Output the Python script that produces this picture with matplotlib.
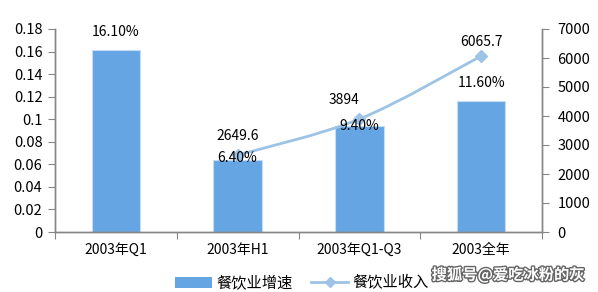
import matplotlib
matplotlib.use("Agg")
import matplotlib.pyplot as plt
import matplotlib.patheffects as pe
from matplotlib.path import Path
from matplotlib.patches import PathPatch
from matplotlib.lines import Line2D
from matplotlib.patches import Patch
import numpy as np

plt.rcParams['font.family'] = ['Noto Sans CJK SC', 'DejaVu Sans']

categories = ["2003年Q1", "2003年H1", "2003年Q1-Q3", "2003全年"]
growth = [0.161, 0.064, 0.094, 0.116]
growth_labels = ["16.10%", "6.40%", "9.40%", "11.60%"]
income_idx = [1, 2, 3]
income = [2649.6, 3894, 6065.7]
income_labels = ["2649.6", "3894", "6065.7"]
left_ticks = [0, 0.02, 0.04, 0.06, 0.08, 0.1, 0.12, 0.14, 0.16, 0.18]
right_ticks = [0, 1000, 2000, 3000, 4000, 5000, 6000, 7000]

bar_color = "#65A5E3"
line_color = "#9DC3E6"
axis_color = "#868686"

fig = plt.figure(figsize=(5.98, 2.92), dpi=100)
ax = fig.add_axes([55/598, 1 - 232/292, (542-55)/598, (232-29)/292])
ax2 = ax.twinx()

x = np.arange(len(categories))
ax.bar(x, growth, width=0.4, color=bar_color, edgecolor="#C5DDF4", linewidth=0.8, zorder=2)
ax.set_xlim(-0.5, len(categories) - 0.5)
ax.set_ylim(0, 0.18)
ax.set_yticks(left_ticks)
ax.set_yticklabels([("%g" % v) for v in left_ticks], fontsize=10.5)
ax.set_xticks(np.arange(-0.5, len(categories)), minor=False)
ax.set_xticklabels([""] * (len(categories) + 1))
ax.set_xticks(x, minor=True)
ax.set_xticklabels(categories, minor=True, fontsize=10)
ax.tick_params(axis='x', which='minor', length=0, pad=8)
ax.tick_params(axis='x', which='major', length=5, color=axis_color, direction='out')
ax.tick_params(axis='y', length=5, color=axis_color, direction='out', pad=4)

ax2.set_ylim(0, 7000)
ax2.set_yticks(right_ticks)
ax2.set_yticklabels([str(v) for v in right_ticks], fontsize=10.5)
ax2.tick_params(axis='y', length=5, color=axis_color, direction='out', pad=6)

# smooth line (Catmull-Rom -> Bezier) through the data points
px = np.array(income_idx, dtype=float)
py = np.array(income, dtype=float)
verts = [(px[0], py[0])]
codes = [Path.MOVETO]
n = len(px)
for i in range(n - 1):
    p0 = (px[i-1], py[i-1]) if i > 0 else (px[i], py[i])
    p1 = (px[i], py[i])
    p2 = (px[i+1], py[i+1])
    p3 = (px[i+2], py[i+2]) if i + 2 < n else (px[i+1], py[i+1])
    c1 = (p1[0] + (p2[0]-p0[0])/6, p1[1] + (p2[1]-p0[1])/6)
    c2 = (p2[0] - (p3[0]-p1[0])/6, p2[1] - (p3[1]-p1[1])/6)
    verts += [c1, c2, p2]
    codes += [Path.CURVE4] * 3
ax2.add_patch(PathPatch(Path(verts, codes), facecolor='none', edgecolor=line_color, lw=2, zorder=3))
ax2.plot(px, py, linestyle='none', marker='D', markersize=6, color=line_color, zorder=4)

# bar labels (offset in points relative to bar top), drawn above the line
bar_offsets = [8, 1, 0, 8]
for xi, v, lab, off in zip(x, growth, growth_labels, bar_offsets):
    ax2.annotate(lab, (xi, v), xycoords=ax.transData, xytext=(0, off), textcoords="offset points",
                 ha="center", va="bottom" if off > 4 else "center", fontsize=10, zorder=6)

line_offsets = [(0, 14), (-11, 14), (0, 10)]
for xi, v, lab, off in zip(income_idx, income, income_labels, line_offsets):
    ax2.annotate(lab, (xi, v), xytext=off, textcoords="offset points",
                 ha="center", va="center", fontsize=10, zorder=6)

for a in (ax, ax2):
    a.spines['top'].set_visible(False)
    for s in ('left', 'right', 'bottom'):
        a.spines[s].set_color(axis_color)
        a.spines[s].set_linewidth(1)

handles = [Patch(facecolor=bar_color, edgecolor='none'),
           Line2D([0], [0], color=line_color, lw=2, marker='D', markersize=5)]
fig.legend(handles, ["餐饮业增速", "餐饮业收入"], loc='center', bbox_to_anchor=(302/598, 1 - 283/292),
           ncol=2, frameon=False, fontsize=11, handlelength=2.4, columnspacing=1.2,
           handletextpad=0.3)

fig.text(508/598, 1 - 275/292, "搜狐号@爱吃冰粉的灰", ha='center', va='center', fontsize=11,
         color='white', fontweight='bold',
         path_effects=[pe.withStroke(linewidth=2, foreground='#666666')])

fig.savefig("out.png", dpi=100)
